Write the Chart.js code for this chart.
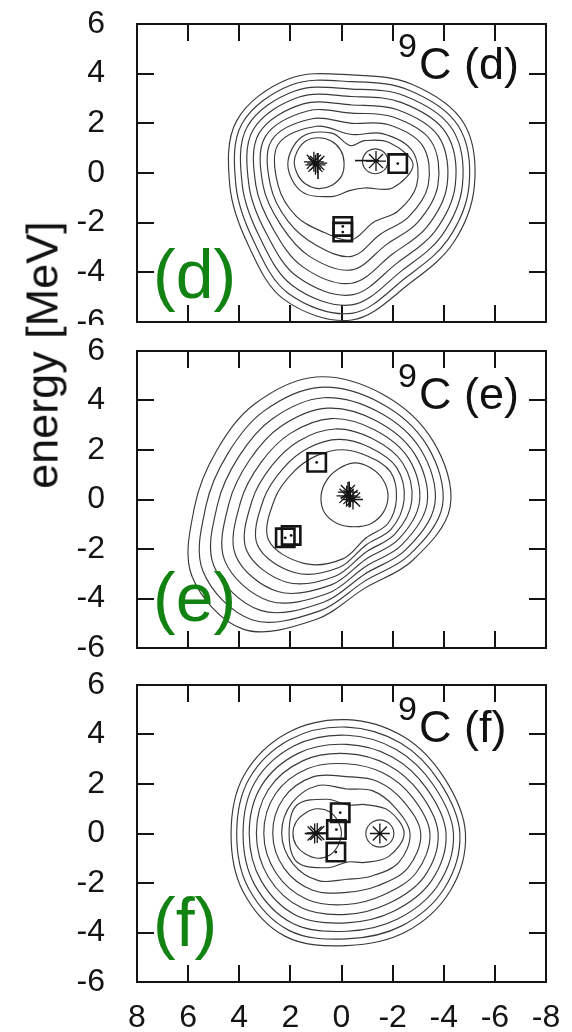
<!DOCTYPE html>
<html>
<head>
<meta charset="utf-8">
<script src="https://cdn.jsdelivr.net/npm/chart.js@4.4.1/dist/chart.umd.min.js"></script>
<style>
  html, body { margin:0; padding:0; background:#fff; }
  body { width:572px; height:1032px; position:relative; overflow:hidden; font-family:"Liberation Sans", Arial, Helvetica, sans-serif; }
  .wrap { position:absolute; left:0; width:572px; overflow:hidden; }
  .wrap canvas { display:block; }
  .txt { position:absolute; line-height:1; white-space:nowrap; color:#111; }
  .tag { position:absolute; line-height:1; white-space:nowrap; color:#128212; font-size:68px; }
</style>
</head>
<body>
<div class="wrap" style="top:0;height:325px"><canvas id="chartD" width="572" height="342"></canvas></div>
<div class="wrap" style="top:331px;height:337px"><canvas id="chartE" width="572" height="337"></canvas></div>
<div class="wrap" style="top:665px;height:367px"><canvas id="chartF" width="572" height="367"></canvas></div>

<div class="txt" style="left:42px;top:355px;font-size:45px;transform:translate(-50%,-50%) rotate(-90deg)">energy [MeV]</div>

<div class="txt" style="left:398px;top:28px;font-size:34px">9</div>
<div class="txt" style="left:419px;top:41px;font-size:45px">C (d)</div>
<div class="txt" style="left:398px;top:358px;font-size:34px">9</div>
<div class="txt" style="left:419px;top:371px;font-size:45px">C (e)</div>
<div class="txt" style="left:398px;top:691px;font-size:34px">9</div>
<div class="txt" style="left:419px;top:704px;font-size:45px">C (f)</div>

<div class="tag" style="left:153px;top:240px">(d)</div>
<div class="tag" style="left:153px;top:563px">(e)</div>
<div class="tag" style="left:153px;top:888px">(f)</div>

<script>
// ---------- axes ----------
const xTickValues = [8, 6, 4, 2, 0, -2, -4, -6, -8];
const yTickValues = [6, 4, 2, 0, -2, -4, -6];
// contour rings: radius read at these screen angles (deg) around each ring centre
const ringAngles = [0, 30, 60, 90, 120, 150, 180, 210, 240, 270, 300, 330];

// ---------- panel (d) ----------
const dRingCx = [-0.4, -0.4, -0.4, -0.4, -0.4, -0.4, -0.4, -0.4, -0.35, 0.9, -1.32];
const dRingCy = [-0.5, -0.5, -0.5, -0.5, -0.5, -0.5, -0.5, -0.5, 0.35, 0.42, 0.47];
const dRingR = [
  [4.80, 5.05, 4.70, 4.45, 4.95, 5.20, 4.77, 4.70, 5.30, 5.42, 4.55, 4.60],
  [4.59, 4.81, 4.44, 4.18, 4.68, 4.96, 4.53, 4.44, 5.00, 5.15, 4.27, 4.35],
  [4.33, 4.54, 4.16, 3.88, 4.40, 4.72, 4.28, 4.16, 4.65, 4.81, 3.95, 4.06],
  [4.05, 4.25, 3.86, 3.58, 4.11, 4.46, 4.02, 3.86, 4.25, 4.41, 3.59, 3.74],
  [3.73, 3.93, 3.53, 3.24, 3.79, 4.19, 3.75, 3.54, 3.80, 3.94, 3.19, 3.38],
  [3.37, 3.58, 3.19, 2.91, 3.46, 3.91, 3.47, 3.20, 3.30, 3.40, 2.74, 2.98],
  [2.99, 3.20, 2.83, 2.50, 3.10, 3.62, 3.18, 2.88, 2.78, 2.86, 2.26, 2.56],
  [2.54, 2.75, 2.41, 2.05, 2.75, 3.32, 2.88, 2.50, 2.18, 2.19, 1.71, 2.08],
  [2.45, 1.75, 1.10, 0.75, 1.45, 2.20, 2.45, 2.20, 1.50, 1.05, 1.10, 1.90],
  [1.00, 1.00, 1.00, 1.00, 1.00, 0.95, 0.95, 0.95, 1.00, 1.05, 1.05, 1.05],
  [0.50, 0.50, 0.50, 0.50, 0.50, 0.50, 0.50, 0.50, 0.50, 0.50, 0.50, 0.50]
];
const dStarX = [1.08, 0.95, 1.02, -1.35];
const dStarY = [0.45, 0.40, 0.33, 0.48];
const dBarX = [0.92];
const dBarY = [0.28];
const dDashX = [-1.0];
const dDashY = [0.5];
const dSquareX = [-2.2, -0.05, -0.05];
const dSquareY = [0.38, -2.15, -2.38];

// ---------- panel (e) ----------
const eRingCx = [1.0, 0.85, 0.7, 0.55, 0.4, 0.25, 0.1, -0.05, -0.5];
const eRingCy = [-0.3, -0.25, -0.2, -0.15, -0.1, -0.05, 0.0, 0.05, 0.15];
const eRingR = [
  [5.25, 5.30, 5.25, 5.25, 4.80, 4.50, 4.75, 5.60, 5.70, 4.55, 3.80, 4.35],
  [4.80, 4.85, 4.78, 4.78, 4.40, 4.17, 4.45, 5.28, 5.32, 4.25, 3.52, 4.02],
  [4.35, 4.40, 4.31, 4.31, 4.00, 3.84, 4.15, 4.96, 4.94, 3.95, 3.24, 3.69],
  [3.90, 3.95, 3.84, 3.84, 3.60, 3.51, 3.85, 4.64, 4.56, 3.65, 2.96, 3.36],
  [3.45, 3.50, 3.37, 3.37, 3.20, 3.18, 3.55, 4.32, 4.18, 3.35, 2.68, 3.03],
  [3.00, 3.05, 2.90, 2.90, 2.80, 2.85, 3.25, 4.00, 3.80, 3.05, 2.40, 2.70],
  [2.55, 2.60, 2.43, 2.43, 2.40, 2.52, 2.95, 3.68, 3.42, 2.75, 2.12, 2.37],
  [2.10, 2.15, 1.96, 1.96, 2.00, 2.19, 2.65, 3.36, 3.04, 2.45, 1.84, 2.04],
  [1.32, 1.30, 1.30, 1.33, 1.25, 1.25, 1.30, 1.35, 1.30, 1.25, 1.30, 1.32]
];
const eStarX = [-0.25, -0.35, -0.45, -0.2];
const eStarY = [0.3, 0.1, 0.0, 0.15];
const eBarX = [-0.3];
const eBarY = [0.2];
const eSquareX = [0.97, 2.2, 1.97];
const eSquareY = [1.5, -1.55, -1.45];

// ---------- panel (f) ----------
const fRingCx = [-0.2, -0.2, -0.2, -0.2, -0.2, -0.2, -0.2, -0.2, -0.25, 0.95, -1.5];
const fRingCy = [0, 0, 0, 0, 0, 0, 0, 0, 0, 0, 0];
const fRingR = [
  [4.65, 4.43, 4.50, 4.60, 4.68, 4.65, 4.52, 4.68, 4.80, 4.53, 4.60, 4.67],
  [4.43, 4.19, 4.22, 4.30, 4.40, 4.41, 4.30, 4.43, 4.52, 4.26, 4.31, 4.42],
  [4.18, 3.92, 3.91, 3.97, 4.09, 4.14, 4.05, 4.15, 4.20, 3.95, 3.99, 4.14],
  [3.89, 3.62, 3.57, 3.60, 3.75, 3.85, 3.81, 3.85, 3.85, 3.61, 3.64, 3.83],
  [3.58, 3.30, 3.21, 3.23, 3.40, 3.54, 3.53, 3.53, 3.48, 3.27, 3.27, 3.50],
  [3.26, 2.96, 2.83, 2.82, 3.03, 3.21, 3.24, 3.19, 3.08, 2.87, 2.87, 3.15],
  [2.90, 2.58, 2.43, 2.30, 2.64, 2.85, 2.89, 2.82, 2.65, 2.38, 2.44, 2.77],
  [2.48, 2.16, 2.00, 1.80, 2.24, 2.47, 2.54, 2.43, 2.20, 1.85, 1.98, 2.35],
  [2.20, 1.85, 1.35, 1.15, 1.60, 2.30, 2.30, 2.30, 1.60, 1.15, 1.35, 1.85],
  [0.95, 0.95, 1.00, 1.00, 0.95, 0.95, 0.95, 0.95, 0.95, 1.00, 1.00, 0.95],
  [0.55, 0.55, 0.55, 0.55, 0.55, 0.55, 0.55, 0.55, 0.55, 0.55, 0.55, 0.55]
];
const fStarX = [1.05, 0.95, -1.5];
const fStarY = [0.0, 0.02, 0.0];
const fDashX = [1.0];
const fDashY = [0.0];
const fSquareX = [0.05, 0.2, 0.22];
const fSquareY = [0.84, 0.16, -0.75];

// ---------- helpers ----------
const INK = '#141414';
const FONT = '"Liberation Sans", Arial, Helvetica, sans-serif';

function ring(cx, cy, radii) {
  return radii.map((r, i) => {
    const a = ringAngles[i] * Math.PI / 180;
    return { x: cx - r * Math.cos(a), y: cy + r * Math.sin(a) };
  });
}
function pts(xs, ys) { return xs.map((x, i) => ({ x: x, y: ys[i] })); }

const closeLoops = {
  id: 'closeLoops',
  afterDatasetUpdate(chart, args) {
    const ds = chart.data.datasets[args.index];
    const line = args.meta && args.meta.dataset;
    if (ds && ds.closedRing && line) {
      line._loop = true;
      line._fullLoop = true;
      line._pointsUpdated = false;
      delete line._segments;
      delete line._path;
    }
  }
};

function markerSet(xs, ys, style, radius, width, extra) {
  return Object.assign({
    data: pts(xs, ys), showLine: false, pointStyle: style, pointRadius: radius,
    pointHoverRadius: radius, pointBorderColor: INK, pointBackgroundColor: 'rgba(0,0,0,0)',
    pointBorderWidth: width, order: 1
  }, extra || {});
}

function fixSize(w, h) {
  return s => {
    if (w !== null) s.width = w;
    if (h !== null) s.height = h;
    s.paddingTop = 0; s.paddingBottom = 0; s.paddingLeft = 0; s.paddingRight = 0;
  };
}

function makeScales(hTop, hBottom, showX) {
  const grid = { drawOnChartArea: false, drawTicks: true, tickLength: -17, tickWidth: 2, tickColor: INK, color: INK, lineWidth: 2 };
  const border = { display: true, color: INK, width: 2 };
  const font = { family: FONT, size: 32 };
  const setX = s => { s.ticks = xTickValues.map(v => ({ value: v })); };
  const setY = s => { s.ticks = yTickValues.map(v => ({ value: v })); };
  return {
    x: { type: 'linear', position: 'bottom', min: -8, max: 8, reverse: true,
         afterBuildTicks: setX, afterFit: fixSize(null, hBottom),
         ticks: { display: showX, font: font, color: INK, padding: 34, maxRotation: 0, autoSkip: false },
         grid: grid, border: border },
    xTop: { type: 'linear', axis: 'x', position: 'top', min: -8, max: 8, reverse: true,
         afterBuildTicks: setX, afterFit: fixSize(null, hTop),
         ticks: { display: false }, grid: grid, border: border },
    y: { type: 'linear', position: 'left', min: -6, max: 6,
         afterBuildTicks: setY, afterFit: fixSize(137, null),
         ticks: { font: font, color: INK, padding: 49, autoSkip: false },
         grid: grid, border: border },
    yRight: { type: 'linear', axis: 'y', position: 'right', min: -6, max: 6,
         afterBuildTicks: setY, afterFit: fixSize(26, null),
         ticks: { display: false }, grid: grid, border: border }
  };
}

function makePanel(canvasId, cxs, cys, radii, markers, hTop, hBottom, showX) {
  const datasets = [];
  markers.forEach(m => datasets.push(m));
  cxs.forEach((cx, k) => {
    datasets.push({
      data: ring(cx, cys[k], radii[k]), closedRing: true, showLine: true,
      borderColor: '#3a3a3a', borderWidth: 1.15, pointRadius: 0, pointHoverRadius: 0,
      tension: 0.35, capBezierPoints: false, fill: false, order: 2
    });
  });
  return new Chart(document.getElementById(canvasId), {
    type: 'scatter',
    data: { datasets: datasets },
    options: {
      responsive: false, maintainAspectRatio: false, animation: false, devicePixelRatio: 1,
      events: [],
      layout: { padding: 0, autoPadding: false },
      elements: { line: { capBezierPoints: false } },
      plugins: { legend: { display: false }, tooltip: { enabled: false } },
      scales: makeScales(hTop, hBottom, showX)
    },
    plugins: [closeLoops]
  });
}

function squaresWithDots(xs, ys) {
  return [
    markerSet(xs, ys, 'rect', 13, 2.6),
    markerSet(xs, ys, 'circle', 1.4, 0, { pointBackgroundColor: INK })
  ];
}

makePanel('chartD', dRingCx, dRingCy, dRingR, [
  markerSet(dStarX, dStarY, 'star', 10, 1.3),
  markerSet(dBarX, dBarY, 'line', 13, 1.6, { pointRotation: 90 }),
  markerSet(dDashX, dDashY, 'line', 12, 1.6),
  ...squaresWithDots(dSquareX, dSquareY)
], 24, 20, false);

makePanel('chartE', eRingCx, eRingCy, eRingR, [
  markerSet(eStarX, eStarY, 'star', 10, 1.3),
  markerSet(eBarX, eBarY, 'line', 13, 1.6, { pointRotation: 90 }),
  ...squaresWithDots(eSquareX, eSquareY)
], 20, 20, false);

makePanel('chartF', fRingCx, fRingCy, fRingR, [
  markerSet(fStarX, fStarY, 'star', 10, 1.3),
  markerSet(fDashX, fDashY, 'line', 10, 1.6),
  ...squaresWithDots(fSquareX, fSquareY)
], 20, 50, true);
</script>
</body>
</html>
